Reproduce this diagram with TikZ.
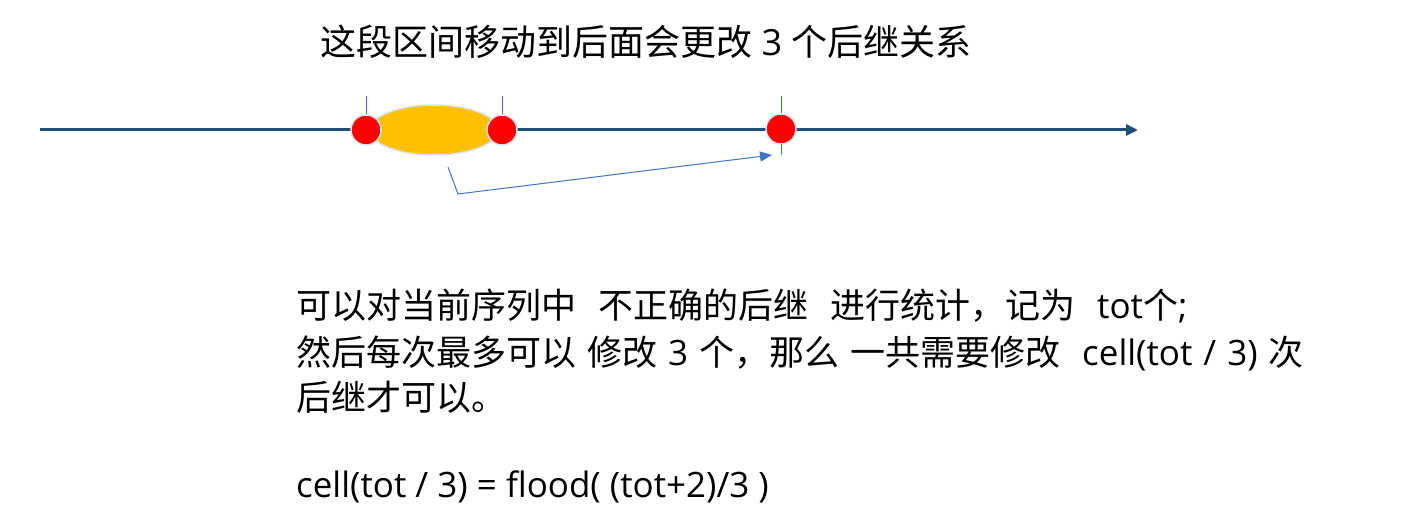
\documentclass[tikz,border=0pt]{standalone}
\usepackage{fontspec}
\setmainfont{Open Sans}
\newfontfamily\cjk{Noto Sans CJK SC}
\usetikzlibrary{arrows.meta,shapes.geometric}
\newcommand\zhs[1]{{\cjk #1}}
\newcommand\widesp{\spaceskip=11pt\relax}
\definecolor{axisblue}{HTML}{1F4E79}
\definecolor{linkblue}{HTML}{4472C4}
\definecolor{segfill}{HTML}{FFC000}
\definecolor{rim}{HTML}{DAE3F3}
\begin{document}
\begin{tikzpicture}[x=1pt,y=-1pt,
  dot/.style={circle,fill=red,draw=rim,line width=1.5pt,minimum size=30pt,inner sep=0pt},
  seg/.style={ellipse,fill=segfill,draw=rim,line width=1.5pt,minimum width=128pt,minimum height=50pt,inner sep=0pt},
  tick/.style={draw=linkblue,line width=0.9pt},
  axis/.style={draw=axisblue,line width=3pt,-{Triangle[length=12pt,width=11pt]}},
  link/.style={draw=linkblue,line width=1pt,-{Triangle[length=12pt,width=10pt]}},
  body/.style={anchor=base west,inner sep=0pt,font=\fontsize{35}{45}\selectfont},
  titletext/.style={anchor=base west,inner sep=0pt,font=\fontsize{36}{46}\selectfont}]
\useasboundingbox (0,0) rectangle (1412,526);
\fill[white] (0,0) rectangle (1412,526);
\node[titletext] (title) at (320,56) {\zhs{这段区间移动到后面会更改} 3 \zhs{个后继关系}};
\coordinate (as) at (40,130);
\coordinate (ae) at (1138,130);
\draw[axis] (as) -- (ae);
\node[seg] (range) at (434,130) {};
\node[dot] (d1) at (366,130) {};
\node[dot] (d2) at (502,130) {};
\node[dot] (d3) at (781,129) {};
\draw[tick] (d1.north) -- ++(0,-18);
\draw[tick] (d2.north) -- ++(0,-18);
\draw[tick] (d3.north) -- ++(0,-17);
\draw[tick] ([yshift=1pt]d3.south) -- ++(0,11);
\coordinate (ls) at (448,167);
\coordinate (lb) at (458,194);
\coordinate (lt) at (772,155);
\draw[link] (ls) -- (lb) -- (lt);
\node[body] (l1) at (296,319) {\widesp\zhs{可以对当前序列中}~~\zhs{不正确的后继}~~\zhs{进行统计，记为}~~tot\zhs{个};};
\node[body] (l2) at (296,365) {\widesp\zhs{然后每次最多可以} \zhs{修改} 3 \zhs{个，那么} \zhs{一共需要修改}~~cell(tot / 3) \zhs{次}};
\node[body] (l3) at (296,410) {\zhs{后继才可以。}};
\node[body] (l5) at (296,497) {cell(tot / 3) = flood( (tot+2)/3 )};
\end{tikzpicture}
\end{document}
